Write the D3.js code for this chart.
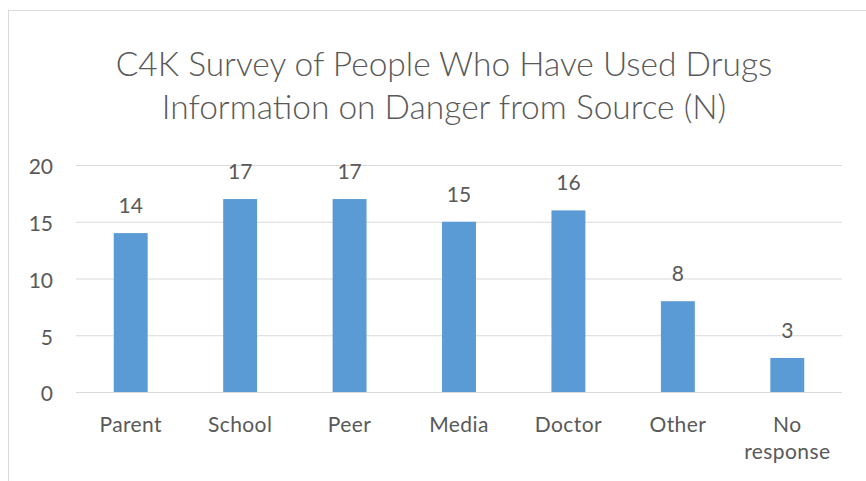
<!DOCTYPE html>
<html><head><meta charset="utf-8">
<script src="https://cdn.jsdelivr.net/npm/d3@7"></script>
<style>body{margin:0;background:#fff}svg{display:block}text{font-family:Lato,"Open Sans",sans-serif;fill:#595959}</style>
</head><body><svg id="c" width="866" height="481"></svg>
<script>
const categories = ["Parent","School","Peer","Media","Doctor","Other","No response"];
const values = [14,17,17,15,16,8,3];
const yTicks = [0,5,10,15,20];
const titleLines = ["C4K Survey of People Who Have Used Drugs","Information on Danger from Source (N)"];

const svg = d3.select("#c");
svg.append("rect").attr("x",8.5).attr("y",10.5).attr("width",870).attr("height",480)
  .attr("fill","#fff").attr("stroke","#d9d9d9");

const m = {left:76,right:842,top:165,bottom:392};
const x = d3.scaleBand().domain(categories).range([m.left,m.right]).paddingInner(0.69).paddingOuter(0.345);
const y = d3.scaleLinear().domain([0,20]).range([m.bottom,m.top]);

svg.append("g").selectAll("text").data(titleLines).join("text")
  .attr("x",444).attr("y",(d,i)=>76+i*43).attr("text-anchor","middle")
  .style("font-size","33.5px").style("font-weight","300").text(d=>d);

const ga = svg.append("g").attr("transform",`translate(${m.left},0)`)
  .call(d3.axisLeft(y).tickValues(yTicks).tickSize(-(m.right-m.left)).tickPadding(23));
ga.select(".domain").remove();
ga.selectAll("line").attr("stroke","#d9d9d9");
ga.selectAll("text").style("font-size","21px").style("font-family","Lato,sans-serif")
  .attr("fill","#595959").attr("dy","0.42em");

svg.append("g").selectAll("rect").data(values).join("rect")
  .attr("x",(d,i)=>x(categories[i])).attr("width",x.bandwidth())
  .attr("y",d=>y(d)).attr("height",d=>y(0)-y(d)).attr("fill","#5b9bd5");

svg.append("g").selectAll("text").data(values).join("text")
  .attr("x",(d,i)=>x(categories[i])+x.bandwidth()/2).attr("y",d=>y(d)-20)
  .attr("text-anchor","middle").style("font-size","21px").text(d=>d);

const bx = x.bandwidth()/2;
const cl = svg.append("g").selectAll("text").data(categories).join("text")
  .attr("text-anchor","middle").style("font-size","21px").style("letter-spacing","0.4px")
  .attr("transform",d=>`translate(${x(d)+bx},432)`);
cl.each(function(d){
  const words = d==="No response" ? ["No","response"] : [d];
  d3.select(this).selectAll("tspan").data(words).join("tspan")
    .attr("x",0).attr("dy",(w,i)=>i?27:0).text(w=>w);
});
</script></body></html>
